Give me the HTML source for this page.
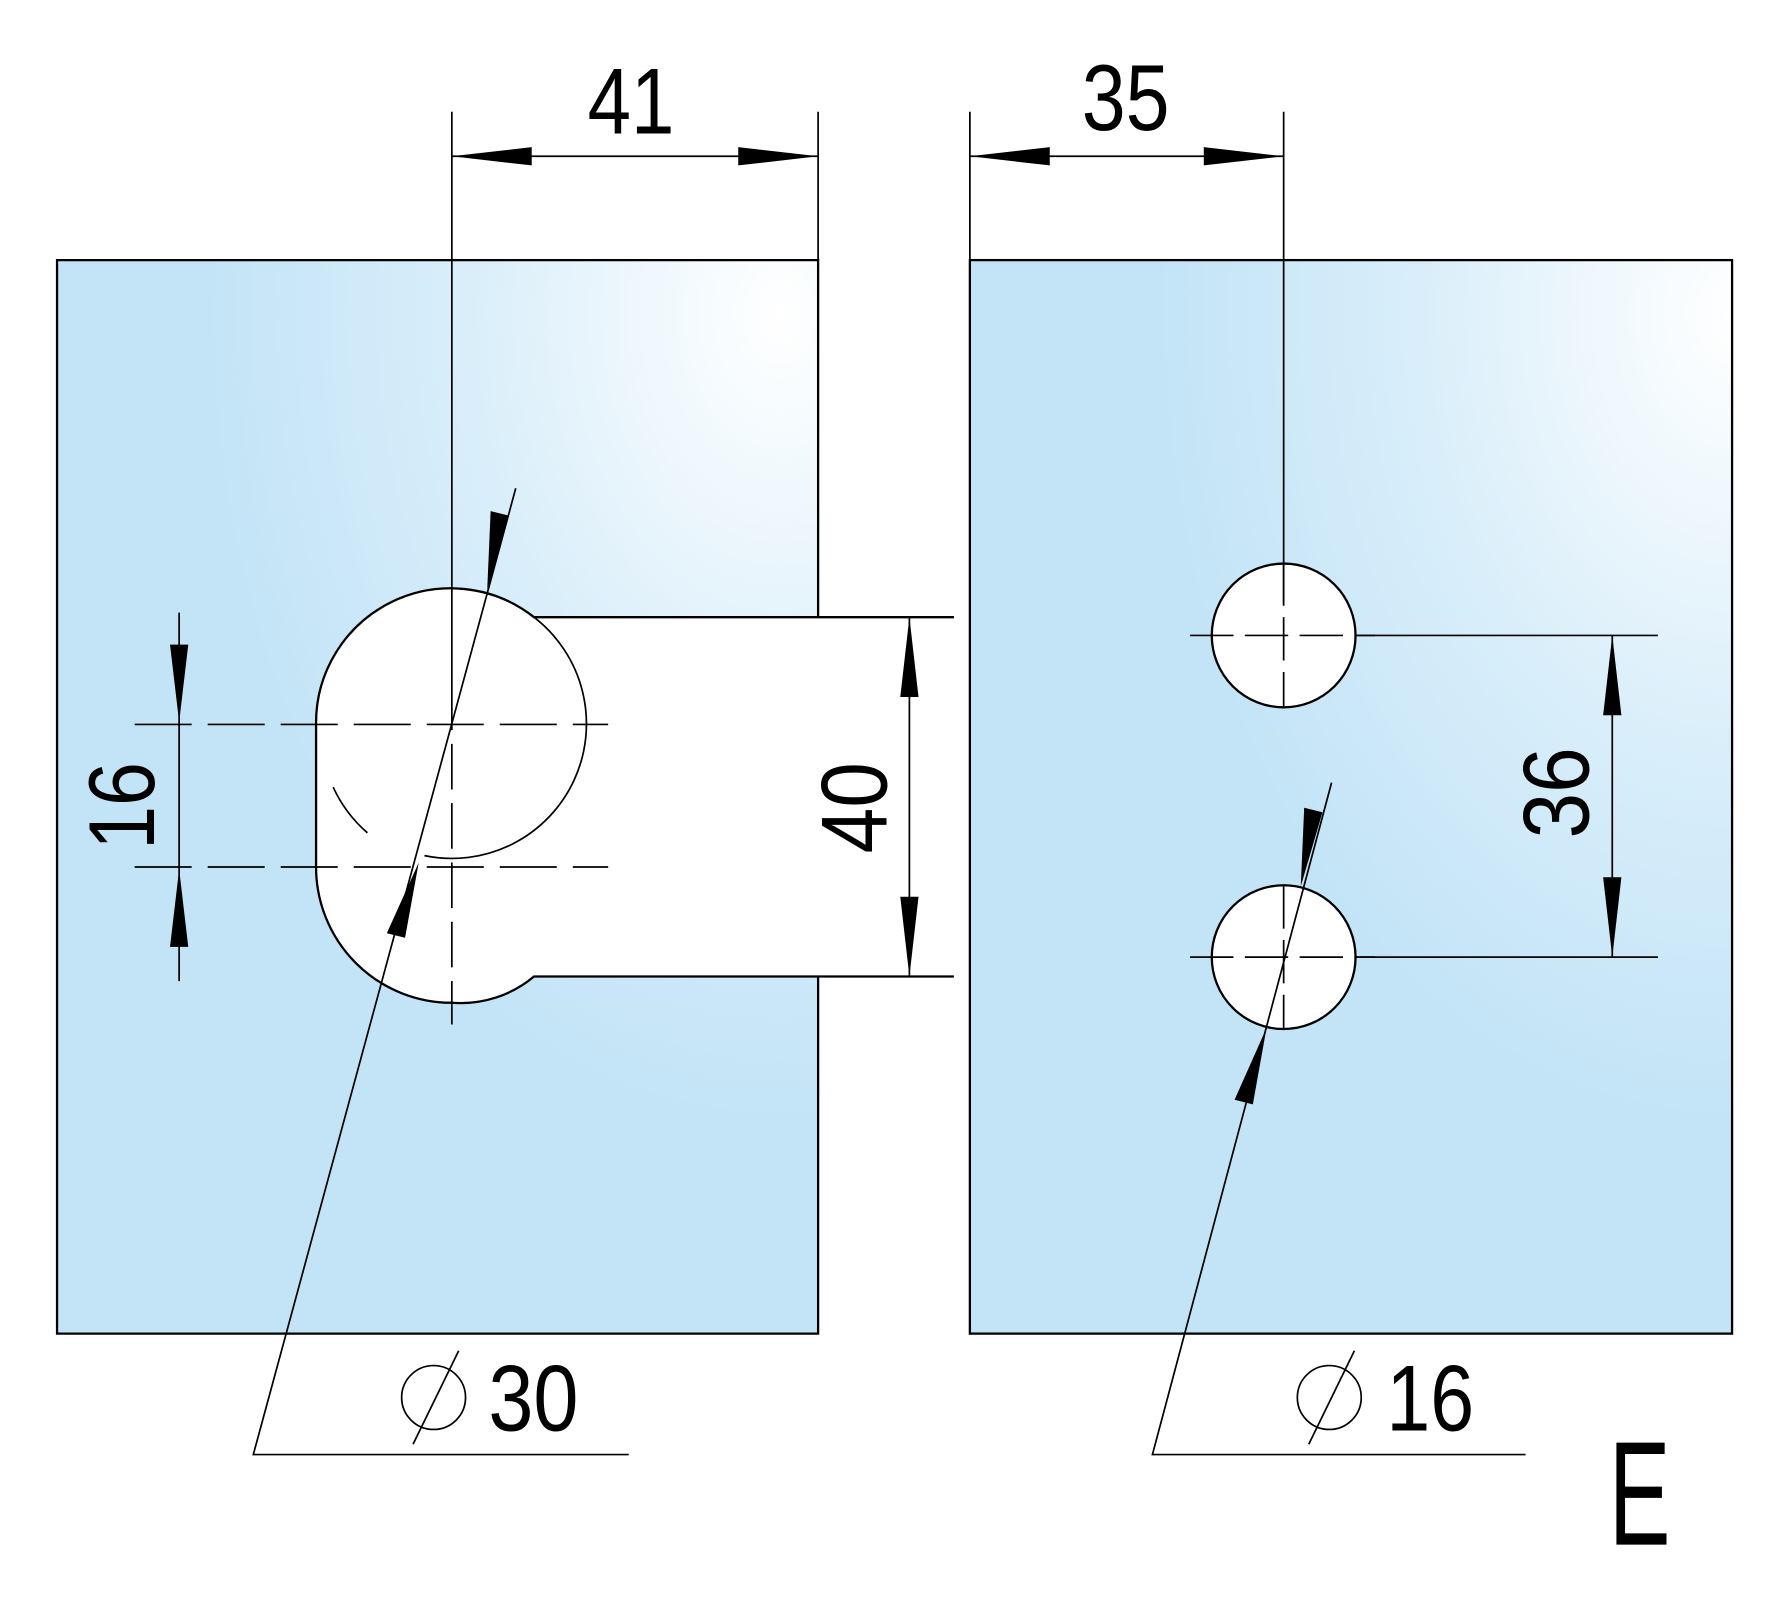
<!DOCTYPE html>
<html><head><style>html,body{margin:0;padding:0;background:#fff}svg{display:block}</style></head><body>
<svg width="1780" height="1604" viewBox="0 0 1560 1406" preserveAspectRatio="none" xmlns="http://www.w3.org/2000/svg">
<defs>
<radialGradient id="g" cx="0.95" cy="0.05" r="0.75">
<stop offset="0" stop-color="#ffffff"/><stop offset="0.55" stop-color="#d9eefa"/><stop offset="1" stop-color="#c3e4f7"/>
</radialGradient>
<radialGradient id="g2" cx="1" cy="0.05" r="0.75">
<stop offset="0" stop-color="#ffffff"/><stop offset="0.55" stop-color="#d9eefa"/><stop offset="1" stop-color="#c3e4f7"/>
</radialGradient>
</defs>
<g stroke="#000" stroke-width="2" fill="none">
<rect x="50" y="228" width="667" height="941" fill="url(#g)" stroke="none"/>
<rect x="850" y="228" width="668" height="941" fill="url(#g2)"/>
<path d="M717 541 V228 H50 V1169 H717 V856"/>
<path d="M840 541 H468 A118 118 0 0 0 277 635 V760 A119 119 0 0 0 396 879 A100 100 0 0 0 468 856 H840 V541" fill="#fff" stroke="none"/>
<path d="M836 541 H468 A118 118 0 0 0 277 635 V760 A119 119 0 0 0 396 879 A100 100 0 0 0 468 856 H836"/>
<path d="M468 541 A118 118 0 0 1 372 750" stroke-width="1.5"/>
<path d="M292 690 A118 118 0 0 0 322 730" stroke-width="1.5"/>
<circle cx="1125" cy="557" r="63" fill="#fff"/>
<circle cx="1125" cy="839" r="63" fill="#fff"/>
<g stroke-width="1.5">
<line x1="396" y1="98" x2="396" y2="600"/>
<line x1="717" y1="98" x2="717" y2="228"/>
<line x1="850" y1="98" x2="850" y2="228"/>
<line x1="1125" y1="98" x2="1125" y2="530"/>
<line x1="396" y1="137" x2="717" y2="137"/>
<line x1="850" y1="137" x2="1125" y2="137"/>
<line x1="118" y1="635" x2="533" y2="635" stroke-dasharray="50 14"/>
<line x1="118" y1="760" x2="533" y2="760" stroke-dasharray="50 14"/>
<line x1="396" y1="600" x2="396" y2="898" stroke-dasharray="40 12"/>
<line x1="157" y1="537" x2="157" y2="860"/>
<line x1="797" y1="541" x2="797" y2="856"/>
<line x1="1043" y1="557" x2="1205" y2="557" stroke-dasharray="38 10"/>
<line x1="1125" y1="493" x2="1125" y2="620" stroke-dasharray="38 10"/>
<line x1="1043" y1="839" x2="1205" y2="839" stroke-dasharray="38 10"/>
<line x1="1125" y1="776" x2="1125" y2="902" stroke-dasharray="38 10"/>
<line x1="1189" y1="557" x2="1453" y2="557"/>
<line x1="1189" y1="839" x2="1453" y2="839"/>
<line x1="1413" y1="557" x2="1413" y2="839"/>
<polyline points="452,428 222,1275 551,1275"/>
<polyline points="1167,686 1010,1275 1337,1275"/>
<circle cx="380" cy="1225" r="28"/><line x1="402" y1="1184" x2="362" y2="1266"/>
<circle cx="1165" cy="1225" r="28"/><line x1="1187" y1="1184" x2="1147" y2="1266"/>
</g>
</g>
<g fill="#000">
<polygon points="396,137 466,129 466,145"/><polygon points="717,137 647,129 647,145"/>
<polygon points="850,137 920,129 920,145"/><polygon points="1125,137 1055,129 1055,145"/>
<polygon points="157,633 149,565 165,565"/><polygon points="157,762 149,830 165,830"/>
<polygon points="797,541 789,611 805,611"/><polygon points="797,856 789,786 805,786"/>
<polygon points="1413,557 1405,627 1421,627"/><polygon points="1413,839 1405,769 1421,769"/>
<polygon points="427,517 430,448 446,452"/><polygon points="367,756 339,818 355,822"/>
<polygon points="1140,777 1143,708 1159,712"/><polygon points="1110,901 1082,964 1098,968"/>
</g>
<g font-family="'Liberation Sans',sans-serif" font-size="82" fill="#000" lengthAdjust="spacingAndGlyphs">
<text x="515" y="117" textLength="76" lengthAdjust="spacingAndGlyphs">41</text>
<text x="948" y="114" textLength="77" lengthAdjust="spacingAndGlyphs">35</text>
<text x="0" y="0" textLength="77" lengthAdjust="spacingAndGlyphs" transform="translate(135,745) rotate(-90)">16</text>
<text x="0" y="0" textLength="80" lengthAdjust="spacingAndGlyphs" transform="translate(777,748) rotate(-90)">40</text>
<text x="0" y="0" textLength="80" lengthAdjust="spacingAndGlyphs" transform="translate(1392,735) rotate(-90)">36</text>
<text x="428" y="1254" textLength="79" lengthAdjust="spacingAndGlyphs">30</text>
<text x="1215" y="1254" textLength="77" lengthAdjust="spacingAndGlyphs">16</text>
<text x="1410" y="1354" font-size="130" textLength="54" lengthAdjust="spacingAndGlyphs">E</text>
</g>
</svg>
</body></html>
